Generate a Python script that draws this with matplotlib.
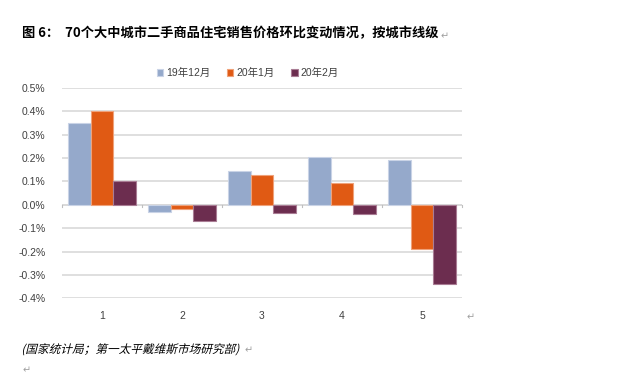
import matplotlib.pyplot as plt
import numpy as np
from matplotlib.patheffects import AbstractPathEffect
from matplotlib.transforms import Affine2D

plt.rcParams['font.family'] = ['Liberation Sans', 'Noto Sans CJK SC', 'DejaVu Sans']

# City tiers and month-on-month change (%)
tiers = ["1", "2", "3", "4", "5"]
dec19 = [0.35, -0.03, 0.145, 0.205, 0.19]
jan20 = [0.40, -0.02, 0.125, 0.095, -0.19]
feb20 = [0.10, -0.07, -0.035, -0.04, -0.34]
series_names = ["19年12月", "20年1月", "20年2月"]
yticks = [-0.4, -0.3, -0.2, -0.1, 0.0, 0.1, 0.2, 0.3, 0.4, 0.5]

colors = ["#95A9CB", "#E05A14", "#6C2D4F"]
edges = ["#C9D3E6", "#EFA27A", "#A97C94"]


class Slant(AbstractPathEffect):
    # fake italic for CJK fonts without an italic face
    def __init__(self, x0, y0, deg=14):
        super().__init__()
        self.x0, self.y0, self.deg = x0, y0, deg

    def draw_path(self, renderer, gc, tpath, affine, rgbFace=None):
        sk = Affine2D().translate(-self.x0, -self.y0).skew_deg(self.deg, 0).translate(self.x0, self.y0)
        renderer.draw_path(gc, tpath, affine + sk, rgbFace)


fig = plt.figure(figsize=(6.35, 3.8), dpi=100)
ax = fig.add_axes([0.0976, 0.215, 0.63, 0.554])

x = np.arange(len(tiers))
w = 0.28
for i, (vals, name) in enumerate(zip([dec19, jan20, feb20], series_names)):
    ax.bar(x + (i - 1) * w, vals, width=w, color=colors[i], edgecolor=edges[i],
           linewidth=0.8, label=name, zorder=3)

ax.set_xlim(-0.5, 4.5)
ax.set_ylim(-0.4, 0.5)
ax.set_yticks(yticks)
ax.set_yticklabels([f"{v:.1f}%" for v in yticks])
ax.yaxis.grid(True, color="#D9D9D9", linewidth=1.2, zorder=0)
ax.axhline(0, color="#D9D9D9", linewidth=1.2, zorder=2)
for b in np.arange(-0.5, 5.0, 1.0):
    ax.plot([b, b], [0, -0.008], color="#BFBFBF", linewidth=0.8, zorder=2, clip_on=False)
ax.set_xticks(x)
ax.set_xticklabels(tiers)
ax.tick_params(axis="both", length=0, labelsize=7.5, colors="#404040")
ax.tick_params(axis="x", pad=9)
ax.tick_params(axis="y", pad=12)
for s in ax.spines.values():
    s.set_visible(False)

ax.legend(loc="center", bbox_to_anchor=(0.465, 1.07), ncol=3, frameon=False,
          fontsize=7.5, handlelength=0.6, handleheight=0.6, handletextpad=0.3,
          columnspacing=1.6, labelcolor="#404040")

fig.text(0.035, 0.912, "图 6：  70个大中城市二手商品住宅销售价格环比变动情况，按城市线级",
         fontsize=9.5, fontweight="bold", family=['Noto Sans CJK SC', 'DejaVu Sans'],
         va="center")
fig.text(0.693, 0.905, "↵", fontsize=7, color="#A0A0A0", va="center")
fig.text(0.735, 0.165, "↵", fontsize=7, color="#A0A0A0", va="center")
src = fig.text(0.035, 0.08, "(国家统计局；第一太平戴维斯市场研究部)", fontsize=8.4,
               family=['Noto Sans CJK SC', 'DejaVu Sans'], va="center")
src.set_path_effects([Slant(0.035 * 635, 0.08 * 380)])
fig.text(0.385, 0.077, "↵", fontsize=7, color="#A0A0A0", va="center")
fig.text(0.035, 0.025, "↵", fontsize=7, color="#A0A0A0", va="center")

fig.savefig("out.png", dpi=100)
